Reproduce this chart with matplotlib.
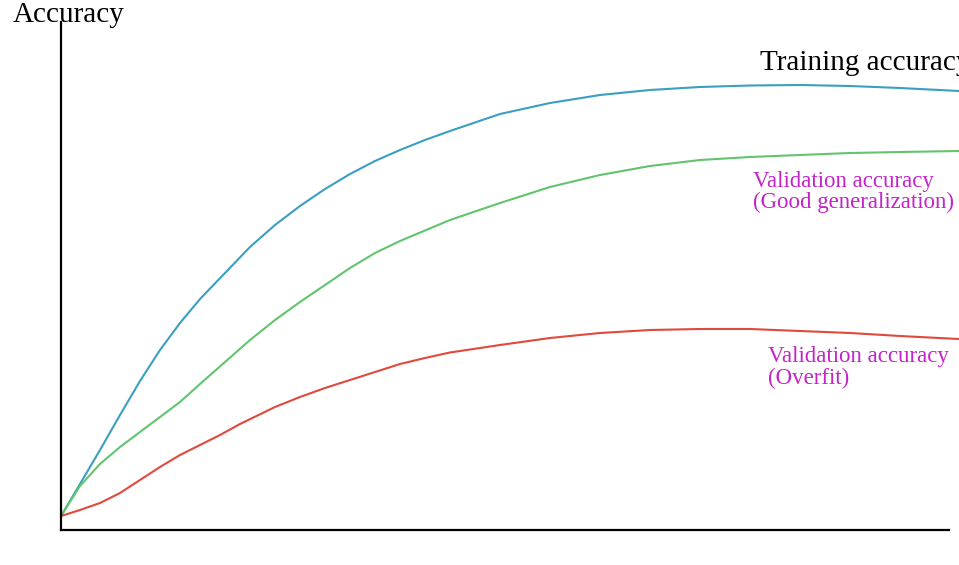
import numpy as np
import matplotlib
matplotlib.use("Agg")
import matplotlib.pyplot as plt

# curves (x = epochs, y = accuracy, arbitrary units)
epochs = [0, 19, 39, 59, 79, 99, 119, 139, 164, 189, 214, 239, 264, 289,
          314, 339, 364, 389, 439, 489, 539, 589, 639, 689, 739, 789, 839, 898]
train_acc = [14, 46, 80, 115, 149, 180, 207, 231, 257, 283, 305, 324, 341, 356,
             369, 380, 390, 399, 416, 427, 435, 440, 443, 444.5, 445, 444, 442, 439]
val_good = [14, 44, 66, 83, 98, 113, 128, 146, 168, 190, 210, 228, 245, 262,
            277, 289, 299.5, 310, 327, 343, 355, 364, 370, 373, 375, 377, 378, 379]

epochs_over = [0, 19, 39, 59, 79, 99, 119, 139, 159, 179, 214, 239, 264, 289,
               314, 339, 364, 389, 439, 489, 539, 589, 639, 689, 739, 789, 839, 898]
val_over = [14, 20, 27, 37, 50, 63, 75, 85, 95, 106, 123, 133, 142, 150,
            158, 166, 172, 177.5, 185, 192, 197, 200, 201, 201, 199, 197, 194, 191]

plt.rcParams['font.family'] = ['Liberation Serif', 'DejaVu Serif']

fig = plt.figure(figsize=(9.59, 5.65), dpi=100)
ax = fig.add_axes([61/959, 35/565, 898/959, 508/565])
ax.set_xlim(0, 898)
ax.set_ylim(0, 508)

ax.plot(epochs, train_acc, color='#3a9fc0', lw=1.5, solid_joinstyle='round')
ax.plot(epochs, val_good, color='#62c46e', lw=1.5, solid_joinstyle='round')
ax.plot(epochs_over, val_over, color='#e0493c', lw=1.5, solid_joinstyle='round')

for s in ['top', 'right']:
    ax.spines[s].set_visible(False)
ax.spines['left'].set_linewidth(1.6)
ax.spines['bottom'].set_linewidth(1.6)
ax.spines['bottom'].set_bounds(0, 888)
ax.set_xticks([])
ax.set_yticks([])

ax.text(-48, 508, 'Accuracy', fontsize=21, va='baseline', clip_on=False)
# cut off at the right edge, as in the original
ax.text(699, 460, 'Training accuracy', fontsize=21, va='baseline', clip_on=False)

mag = '#c424c8'
ax.text(692, 343, 'Validation accuracy', fontsize=16.5, color=mag, va='baseline', clip_on=False)
ax.text(692, 322, '(Good generalization)', fontsize=16.5, color=mag, va='baseline', clip_on=False)
ax.text(707, 168, 'Validation accuracy', fontsize=16.5, color=mag, va='baseline', clip_on=False)
ax.text(707, 146, '(Overfit)', fontsize=16.5, color=mag, va='baseline', clip_on=False)

fig.savefig('out.png', dpi=100)
